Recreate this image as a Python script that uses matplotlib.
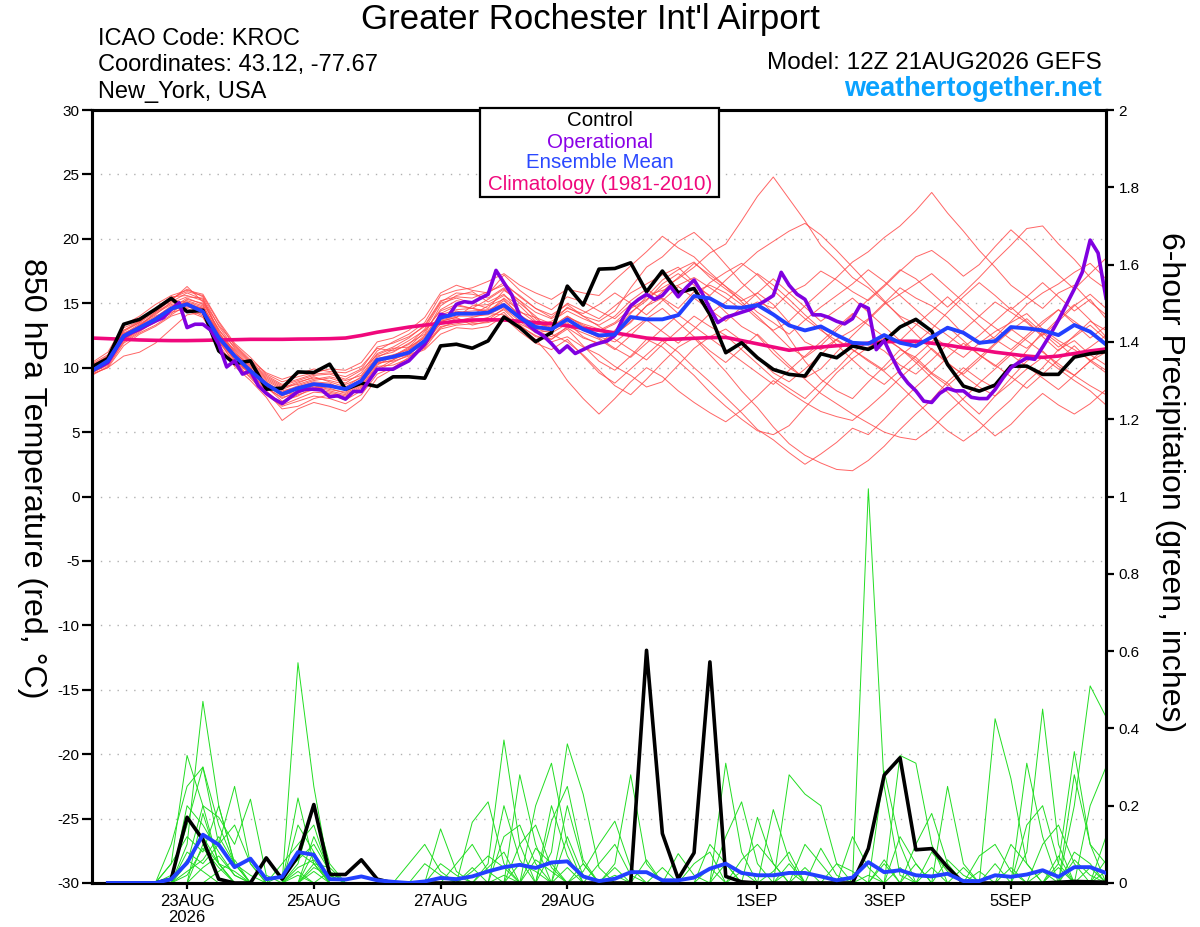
import numpy as np
import matplotlib
matplotlib.use("Agg")
import matplotlib.pyplot as plt
from matplotlib.patches import Rectangle

plt.rcParams['font.family'] = ['Liberation Sans', 'DejaVu Sans']

# ---------------- data ----------------
# 6-hourly steps from 12Z 21AUG2026 (hours since start)
hours6 = np.arange(0, 385, 6)
hours3 = np.arange(0, 385, 3)

tick_hours = [36, 84, 132, 180, 252, 300, 348]
tick_labels = ["23AUG\n2026", "25AUG", "27AUG", "29AUG", "1SEP", "3SEP", "5SEP"]

control_temp = [10.06, 10.71, 13.37, 13.75, 14.53, 15.38, 14.35, 14.45, 11.30, 10.32,
                10.53, 8.33, 8.41, 9.67, 9.62, 10.27, 8.33, 8.80, 8.54, 9.29,
                9.29, 9.18, 11.69, 11.82, 11.51, 12.08, 13.93, 13.11, 12.02, 12.72,
                16.33, 14.86, 17.65, 17.70, 18.14, 15.89, 17.50, 15.82, 16.15, 14.13,
                11.16, 11.93, 10.77, 9.86, 9.48, 9.35, 11.08, 10.77, 11.68, 11.42,
                12.06, 13.15, 13.75, 12.84, 10.25, 8.57, 8.18, 8.65, 10.12, 10.12,
                9.48, 9.48, 10.82, 11.08, 11.24]

mean_temp = [9.75, 10.53, 12.46, 13.11, 13.75, 14.58, 14.92, 14.35, 12.33, 10.91,
             9.75, 8.72, 7.95, 8.41, 8.72, 8.59, 8.33, 8.98, 10.6, 10.84,
             11.17, 12.08, 13.88, 14.19, 14.19, 14.27, 14.86, 13.88, 13.16, 12.98,
             13.75, 12.98, 12.5, 12.58, 13.93, 13.75, 13.75, 14.08, 15.56, 15.38,
             14.70, 14.65, 14.86, 14.13, 13.28, 12.89, 13.20, 12.53, 11.93, 11.86,
             12.53, 11.93, 11.68, 12.37, 13.10, 12.71, 11.93, 12.06, 13.15, 13.05,
             12.89, 12.53, 13.31, 12.79, 11.80]

clim_temp = [12.3, 12.25, 12.2, 12.15, 12.12, 12.1, 12.1, 12.12, 12.15, 12.17,
             12.2, 12.2, 12.2, 12.22, 12.23, 12.25, 12.3, 12.5, 12.75, 12.95,
             13.15, 13.3, 13.45, 13.6, 13.7, 13.72, 13.7, 13.6, 13.5, 13.4,
             13.25, 13.05, 12.9, 12.7, 12.5, 12.3, 12.2, 12.22, 12.28, 12.33,
             12.35, 12.1, 11.85, 11.6, 11.35, 11.5, 11.6, 11.7, 11.8, 11.9,
             12.0, 12.05, 12.05, 11.9, 11.75, 11.55, 11.4, 11.2, 11.05, 10.9,
             10.8, 10.9, 11.1, 11.3, 11.45]

# operational run, 3-hourly
oper_temp = [9.8, 10.06, 10.4, 11.43, 12.39, 12.72, 12.98, 13.31,
             13.62, 13.88, 14.53, 15.04, 13.11, 13.37, 13.37, 12.9,
             11.82, 10.06, 10.53, 9.5, 9.75, 8.59, 8.0, 7.56,
             7.22, 7.69, 8.15, 8.33, 8.33, 8.26, 7.74, 7.82,
             7.56, 8.15, 8.15, 9.03, 9.88, 9.88, 9.88, 10.22,
             10.53, 11.17, 11.82, 12.85, 14.14, 14.01, 14.92, 15.12,
             15.04, 15.38, 15.69, 17.55, 16.59, 15.64, 14.01, 13.37,
             12.85, 12.46, 11.87, 11.17, 11.69, 11.10, 11.4, 11.7,
             11.9, 12.06, 12.5, 13.8, 14.8, 15.3, 15.69, 15.3,
             15.6, 16.3, 15.5, 16.2, 16.8, 15.8, 14.6, 13.5,
             13.9, 14.1, 14.3, 14.5, 14.85, 15.2, 15.6, 17.4,
             16.4, 15.7, 15.3, 14.1, 14.1, 13.9, 13.6, 13.4,
             13.8, 14.9, 14.6, 11.4, 12.1, 10.8, 9.6, 8.8,
             8.2, 7.4, 7.3, 8.0, 8.4, 8.2, 8.2, 7.7,
             7.6, 7.6, 8.3, 9.2, 10.0, 10.4, 10.75, 10.65,
             11.6, 12.6, 13.7, 14.9, 16.1, 17.4, 19.9, 18.9,
             15.4]

member_temps = [
    [9.6,10.2,12.0,12.8,13.6,14.2,15.3,15.0,13.0,11.2,10.0,8.5,7.4,7.8,8.5,8.2,
     7.9,8.6,10.2,10.9,11.6,12.8,14.5,15.2,15.0,14.6,16.0,15.2,13.8,12.9,13.5,12.4,
     11.8,12.9,14.2,15.5,16.8,17.6,18.2,17.0,16.1,15.2,15.8,14.9,13.5,12.0,11.4,12.2,
     12.9,13.8,15.0,16.2,15.4,14.8,13.9,12.6,11.8,12.4,13.6,14.9,15.8,16.5,17.4,18.1,16.9],
    [10.1,10.9,12.6,13.4,14.1,15.1,15.8,15.3,12.6,11.4,10.1,9.0,8.3,8.8,9.3,8.9,
     8.5,9.3,10.9,11.2,11.9,12.6,14.8,15.6,15.9,15.1,15.7,14.3,13.9,13.4,14.7,14.0,
     13.6,14.4,16.2,17.8,18.6,19.8,20.5,19.4,18.0,16.6,15.5,14.2,12.3,10.5,9.1,8.2,
     7.6,8.9,10.1,11.4,10.8,9.6,8.8,7.5,6.4,7.8,9.2,10.5,11.3,10.1,9.4,8.6,7.9],
    [9.7,10.4,12.3,13.0,13.9,14.8,15.1,14.2,12.0,10.4,9.6,8.2,7.1,7.6,8.1,8.0,
     7.7,8.4,9.8,10.4,11.0,12.0,13.6,13.9,14.8,14.9,15.6,14.8,13.6,13.1,14.0,13.2,
     12.9,13.5,14.6,15.3,16.2,16.9,17.8,18.9,19.6,21.4,23.3,24.8,23.1,21.4,19.5,18.3,
     17.0,16.2,15.1,14.0,13.4,12.5,11.6,10.8,11.9,12.8,13.5,14.2,13.0,12.1,11.4,10.6,9.8],
    [9.9,10.6,12.4,13.3,14.0,14.5,14.7,14.6,12.5,10.8,9.4,8.1,6.8,7.0,7.6,7.9,
     7.5,8.2,9.9,10.6,11.4,12.4,14.1,14.5,14.6,15.3,16.1,15.0,14.0,12.6,12.0,11.0,
     9.8,8.6,7.9,9.1,10.4,11.6,12.3,11.0,9.7,8.2,6.9,5.4,4.1,3.2,2.6,2.1,
     2.0,2.8,3.9,5.2,6.4,7.5,8.9,10.0,9.1,8.4,9.9,11.3,12.8,11.9,10.8,11.6,12.5],
    [10.3,11.0,13.1,13.6,14.4,15.2,16.3,15.1,12.9,11.6,10.4,9.3,8.6,9.0,9.4,9.5,
     9.1,9.8,11.0,11.5,11.6,12.3,13.8,14.4,14.1,14.8,15.3,14.0,12.9,12.4,13.1,12.3,
     11.9,12.6,13.5,14.8,15.4,14.6,15.9,16.4,15.8,14.9,13.8,12.9,13.6,14.8,15.9,17.0,
     18.2,19.0,20.1,21.0,22.2,23.6,22.0,20.6,19.1,17.8,16.4,15.5,14.6,15.8,16.4,15.1,14.1],
    [9.5,10.0,11.7,12.6,13.2,14.0,14.4,13.9,11.8,10.1,9.0,7.7,5.9,6.8,7.3,7.0,
     6.6,7.5,9.2,9.9,10.5,11.7,13.2,13.4,13.6,13.9,14.5,13.3,12.4,12.2,13.0,11.7,
     10.5,9.8,10.9,12.2,11.6,10.5,9.4,8.1,7.0,6.0,5.1,4.8,5.5,6.9,8.2,9.6,
     10.7,11.6,12.3,11.5,10.4,9.2,8.1,6.9,5.8,4.7,5.6,6.9,8.0,7.1,6.4,7.2,8.3],
    [10.0,10.7,12.9,13.5,14.6,15.5,15.6,15.2,13.3,11.8,10.6,9.6,9.1,9.5,9.9,9.7,
     9.6,10.1,11.5,11.3,11.8,13.0,15.0,15.4,15.0,15.7,17.2,16.0,15.1,14.5,15.5,15.1,
     14.4,13.8,14.9,15.6,16.0,16.4,17.0,16.2,15.4,14.5,15.1,14.6,15.8,16.4,17.5,16.8,
     15.9,15.2,16.3,17.5,18.6,19.1,18.2,17.1,18.0,19.4,20.7,19.6,18.4,17.2,16.1,17.3,18.5],
    [9.4,10.1,11.9,12.7,13.3,14.1,14.9,14.6,12.2,10.6,9.5,8.4,7.7,8.0,8.6,8.4,
     8.0,8.7,10.5,10.8,11.1,11.9,13.4,13.8,13.5,13.7,14.6,13.6,12.7,12.9,13.9,13.4,
     13.0,12.2,11.4,10.6,11.8,12.9,14.0,13.2,12.5,11.4,10.3,9.2,8.4,7.6,8.8,9.9,
     11.2,12.0,11.3,10.2,9.5,10.6,11.8,12.9,14.0,15.1,14.3,13.5,12.4,11.3,12.5,13.6,12.9],
    [10.2,10.8,12.7,13.2,14.3,15.0,15.5,15.4,12.8,11.0,9.9,8.9,8.1,8.6,9.0,9.2,
     8.8,9.6,11.3,12.0,12.6,13.5,15.6,16.0,16.2,16.7,17.3,16.4,15.8,15.3,16.1,15.8,
     15.6,16.8,17.9,19.0,20.2,19.3,18.6,17.4,16.3,15.1,14.0,12.8,11.6,10.8,11.7,12.9,
     14.1,15.3,16.4,17.6,16.9,15.8,14.7,15.8,17.0,18.3,19.5,20.8,21.0,19.6,18.4,17.0,16.1],
    [9.8,10.5,12.2,13.0,13.7,14.3,14.6,14.0,12.1,10.9,9.7,8.6,7.9,8.1,8.4,8.6,
     8.4,9.0,10.6,10.7,11.0,11.5,13.1,13.6,13.9,14.2,14.1,13.2,12.5,12.0,12.4,11.6,
     11.0,10.1,9.4,8.5,8.9,10.2,11.5,12.4,13.0,12.1,10.8,9.6,8.9,9.9,11.0,12.2,
     11.4,10.5,9.7,8.6,7.4,6.2,5.1,4.3,5.2,6.4,7.5,8.9,10.0,11.4,12.1,11.0,10.2],
    [10.4,11.2,13.3,14.0,14.9,15.6,16.0,15.7,13.6,11.9,10.8,9.5,8.9,9.3,9.6,9.9,
     9.8,10.4,12.0,12.3,12.9,13.9,15.8,16.4,16.0,15.8,16.6,15.5,14.6,13.9,15.0,14.4,
     13.8,14.8,15.8,16.5,17.2,17.8,16.6,15.5,14.3,13.2,12.5,11.1,10.0,9.2,9.9,11.2,
     12.5,13.7,14.9,15.7,16.5,17.3,16.2,15.1,14.0,13.1,12.2,11.5,12.6,13.8,14.9,13.7,12.4],
    [9.6,10.3,12.1,12.9,13.5,14.4,15.0,14.5,12.4,10.5,9.2,7.9,7.0,7.4,7.8,7.6,
     7.2,7.9,9.5,10.0,10.8,11.8,13.0,13.3,13.4,13.5,13.9,12.8,11.9,11.4,12.2,10.9,
     9.6,8.8,9.9,11.0,12.1,11.2,10.0,8.9,7.7,6.5,5.2,4.4,3.4,2.5,3.3,4.2,
     5.3,4.8,6.0,7.3,8.5,9.6,10.8,11.9,11.0,10.1,11.2,12.3,13.4,14.5,13.6,12.7,11.8],
    [10.0,10.6,12.5,13.3,14.2,14.9,15.2,14.8,12.7,11.1,10.2,9.1,8.4,8.9,9.2,9.0,
     8.7,9.2,10.8,11.4,12.1,12.9,14.4,14.9,14.6,14.4,15.2,14.1,13.3,13.6,14.4,13.8,
     13.3,14.0,15.2,16.1,15.3,14.2,15.4,16.6,17.4,18.1,17.2,16.0,14.9,13.8,12.9,12.1,
     11.4,10.6,9.8,10.9,11.9,13.0,14.3,15.5,16.6,15.6,14.5,15.5,16.6,15.5,14.4,15.3,13.8],
    [9.7,10.4,12.3,13.1,13.8,14.6,15.4,14.9,12.5,11.3,9.9,8.8,8.2,8.5,8.9,8.8,
     8.2,8.9,10.4,10.5,10.9,11.4,12.6,13.1,13.0,13.2,14.0,13.4,12.8,12.2,13.2,12.7,
     12.2,11.4,12.5,13.7,12.8,11.9,13.0,14.2,15.1,16.2,17.3,16.4,15.3,14.1,13.0,11.8,
     10.6,9.5,8.7,9.8,10.9,12.0,13.2,12.1,11.0,10.2,9.3,8.4,9.5,10.6,11.7,10.5,9.6],
    [10.1,10.8,12.8,13.5,14.3,15.3,16.1,15.5,13.2,11.5,10.3,9.2,8.5,8.7,9.1,9.3,
     9.0,9.4,11.1,11.6,12.3,13.3,15.2,15.5,15.4,15.9,16.4,15.6,14.6,14.1,14.9,14.0,
     13.2,12.5,13.6,14.8,15.9,17.0,18.1,17.2,16.3,15.4,14.3,13.5,12.6,13.7,14.7,15.6,
     16.5,17.6,16.7,15.6,14.5,13.4,12.5,11.6,12.5,13.6,14.7,13.6,12.5,13.6,14.8,15.7,14.6],
    [9.5,10.0,10.9,11.2,11.9,13.0,14.1,14.3,12.2,10.2,9.3,8.0,7.3,7.9,8.3,8.1,
     7.8,8.5,10.1,10.2,10.7,11.6,13.6,13.9,13.3,13.6,14.3,13.0,12.2,10.8,9.0,7.6,
     6.4,7.6,8.9,10.0,9.3,8.2,7.3,6.5,5.8,6.7,7.8,9.0,8.1,7.3,6.6,6.2,
     5.9,6.9,8.0,9.2,10.3,11.5,10.4,9.4,8.5,7.8,8.8,9.9,10.8,9.9,9.0,8.2,7.1],
    [9.9,10.6,12.6,13.2,13.9,14.7,15.0,14.6,12.4,11.0,9.8,8.8,8.0,8.5,8.8,8.7,
     8.4,9.1,10.7,11.0,11.4,12.2,13.9,14.3,14.4,14.5,15.0,14.0,13.4,13.2,14.0,13.3,
     12.8,13.4,14.3,15.2,16.5,17.3,16.4,15.6,16.8,17.9,19.0,19.8,20.6,21.2,20.3,19.1,
     17.8,16.5,15.2,13.9,12.6,11.4,10.3,9.5,10.6,11.8,12.9,13.8,12.7,11.6,12.4,13.3,12.2],
    [9.8,10.4,12.4,13.0,13.6,14.5,14.8,14.1,12.0,10.7,9.6,8.5,7.6,8.2,8.6,8.3,
     8.1,8.8,10.3,10.6,11.2,12.0,13.7,14.0,14.0,14.1,14.7,13.8,13.0,12.7,13.4,12.9,
     12.4,12.0,12.9,13.8,14.6,13.5,12.4,11.3,10.4,11.5,12.6,11.4,10.2,9.1,8.0,7.2,
     6.4,5.7,5.0,4.6,4.4,5.3,6.5,7.6,8.8,9.9,11.0,10.1,9.2,8.3,9.4,10.5,11.2],
    [10.2,10.9,12.9,13.6,14.5,15.4,15.9,15.6,13.5,11.7,10.5,9.4,8.7,9.1,9.5,9.6,
     9.3,9.9,11.6,11.9,12.4,13.2,15.1,15.8,15.7,15.4,16.2,15.2,14.3,13.8,14.6,14.2,
     14.9,15.8,15.0,14.1,15.2,16.3,15.4,14.5,13.6,14.7,15.8,16.9,15.8,14.7,13.6,14.5,
     15.4,14.3,13.2,12.1,13.3,14.4,15.5,14.4,13.3,12.2,11.4,12.5,13.6,14.5,13.4,12.3,13.2],
    [9.6,10.3,12.2,12.9,13.7,14.5,15.1,14.7,12.6,10.9,9.7,8.6,7.8,8.3,8.7,8.5,
     8.3,8.8,10.4,10.9,11.5,12.5,14.2,14.8,14.6,14.3,15.4,14.4,13.5,13.0,13.8,13.0,
     12.3,11.5,10.8,11.9,13.0,14.1,13.2,12.3,11.4,10.5,9.6,8.7,9.8,10.9,12.0,13.1,
     14.2,13.3,12.4,11.5,10.6,9.5,8.6,9.7,10.8,11.9,13.0,12.1,11.2,10.3,9.4,10.5,11.6],
]

control_precip = [0, 0, 0, 0, 0, 0.01, 0.17, 0.112, 0.01, 0,
                  0, 0.065, 0.01, 0.069, 0.203, 0.022, 0.022, 0.06, 0.01, 0,
                  0, 0, 0, 0, 0, 0, 0, 0, 0, 0,
                  0, 0, 0, 0, 0, 0.602, 0.128, 0.011, 0.078, 0.572,
                  0.017, 0.003, 0, 0, 0, 0, 0, 0, 0, 0.089,
                  0.279, 0.324, 0.086, 0.089, 0.041, 0, 0, 0, 0, 0,
                  0, 0.002, 0.004, 0.003, 0.002]

mean_precip = [0, 0, 0, 0, 0, 0.01, 0.052, 0.125, 0.099, 0.041,
               0.063, 0.01, 0.016, 0.08, 0.073, 0.01, 0.009, 0.017, 0.007, 0.003,
               0, 0.004, 0.013, 0.01, 0.017, 0.03, 0.041, 0.047, 0.039, 0.053,
               0.056, 0.017, 0.005, 0.011, 0.028, 0.028, 0.007, 0.007, 0.014, 0.037,
               0.05, 0.026, 0.02, 0.02, 0.026, 0.026, 0.017, 0.007, 0.014, 0.054,
               0.028, 0.033, 0.02, 0.017, 0.024, 0.005, 0.005, 0.02, 0.016, 0.022,
               0.033, 0.016, 0.041, 0.041, 0.026]

# ensemble member precipitation: {6-h step index: inches}, other steps are 0
member_precip = [
    {5: 0.05, 6: 0.33, 7: 0.2, 8: 0.05, 13: 0.57, 14: 0.25, 15: 0.02, 25: 0.05, 26: 0.37, 27: 0.1,
     33: 0.05, 34: 0.28, 35: 0.05, 49: 1.02, 50: 0.25, 51: 0.02, 59: 0.08, 60: 0.45, 61: 0.1},
    {6: 0.1, 7: 0.47, 8: 0.2, 9: 0.05, 13: 0.05, 14: 0.2, 15: 0.05, 29: 0.08, 30: 0.36, 31: 0.23,
     32: 0.04, 40: 0.31, 41: 0.08, 51: 0.33, 52: 0.31, 53: 0.1, 62: 0.2, 63: 0.51, 64: 0.43},
    {5: 0.1, 6: 0.25, 7: 0.3, 8: 0.1, 9: 0.25, 10: 0.05, 13: 0.22, 14: 0.05, 22: 0.14, 23: 0.03,
     27: 0.28, 28: 0.1, 42: 0.17, 43: 0.05, 57: 0.425, 58: 0.27, 59: 0.05},
    {6: 0.05, 7: 0.2, 8: 0.17, 9: 0.1, 10: 0.217, 11: 0.02, 14: 0.12, 15: 0.03, 24: 0.157, 25: 0.21,
     26: 0.05, 31: 0.03, 32: 0.1, 33: 0.16, 34: 0.04, 44: 0.28, 45: 0.23, 46: 0.2, 47: 0.05,
     54: 0.25, 55: 0.05, 61: 0.05, 62: 0.34, 63: 0.1},
    {5: 0.02, 6: 0.15, 7: 0.3, 8: 0.15, 9: 0.05, 12: 0.05, 13: 0.1, 14: 0.15, 15: 0.02, 20: 0.05,
     21: 0.1, 22: 0.03, 28: 0.2, 29: 0.31, 30: 0.1, 37: 0.076, 38: 0.02, 43: 0.19, 44: 0.06,
     50: 0.29, 51: 0.1, 59: 0.31, 60: 0.12},
    {6: 0.2, 7: 0.15, 8: 0.08, 9: 0.02, 13: 0.08, 14: 0.05, 15: 0.04, 26: 0.12, 27: 0.15, 28: 0.05,
     30: 0.2, 31: 0.05, 40: 0.12, 41: 0.21, 42: 0.05, 48: 0.12, 49: 0.04, 52: 0.1, 53: 0.18,
     54: 0.05, 62: 0.28, 63: 0.1, 64: 0.05},
    {7: 0.1, 8: 0.05, 9: 0.03, 14: 0.08, 23: 0.05, 24: 0.1, 25: 0.03, 29: 0.16, 30: 0.25, 31: 0.06,
     39: 0.1, 40: 0.05, 45: 0.1, 46: 0.05, 56: 0.07, 57: 0.1, 58: 0.03, 63: 0.2, 64: 0.3},
    {5: 0.05, 6: 0.12, 7: 0.08, 8: 0.2, 9: 0.05, 13: 0.15, 14: 0.08, 26: 0.2, 27: 0.06, 32: 0.05,
     33: 0.1, 34: 0.02, 46: 0.09, 47: 0.02, 51: 0.12, 52: 0.05, 59: 0.15, 60: 0.2, 61: 0.05},
    {6: 0.05, 7: 0.12, 8: 0.05, 12: 0.02, 13: 0.06, 14: 0.1, 15: 0.03, 21: 0.05, 22: 0.02,
     28: 0.09, 29: 0.05, 35: 0.06, 41: 0.06, 42: 0.1, 43: 0.05, 53: 0.08, 54: 0.03, 60: 0.1,
     61: 0.15, 62: 0.05},
    {6: 0.08, 7: 0.05, 8: 0.1, 9: 0.15, 10: 0.05, 14: 0.05, 24: 0.03, 25: 0.07, 26: 0.04,
     30: 0.12, 31: 0.02, 38: 0.05, 39: 0.08, 44: 0.05, 50: 0.06, 55: 0.04, 58: 0.1, 59: 0.05,
     64: 0.12},
    {7: 0.18, 8: 0.05, 13: 0.04, 14: 0.06, 22: 0.05, 23: 0.02, 27: 0.1, 28: 0.15, 29: 0.04,
     33: 0.04, 40: 0.05, 47: 0.05, 48: 0.03, 52: 0.05, 57: 0.05, 62: 0.08, 63: 0.05},
    {6: 0.03, 7: 0.06, 8: 0.12, 9: 0.05, 10: 0.02, 15: 0.03, 25: 0.04, 26: 0.08, 29: 0.2,
     30: 0.07, 36: 0.04, 43: 0.03, 44: 0.08, 49: 0.02, 54: 0.06, 55: 0.02, 61: 0.04, 64: 0.06},
    {6: 0.02, 7: 0.09, 8: 0.04, 14: 0.03, 27: 0.05, 28: 0.03, 33: 0.02, 45: 0.04, 56: 0.03,
     63: 0.04},
    {7: 0.04, 8: 0.07, 9: 0.02, 13: 0.03, 26: 0.02, 30: 0.04, 41: 0.03, 51: 0.04, 60: 0.03},
    {6: 0.06, 7: 0.03, 14: 0.04, 15: 0.02, 28: 0.06, 29: 0.03, 39: 0.04, 50: 0.05, 58: 0.04,
     62: 0.06, 63: 0.02},
    {8: 0.03, 9: 0.06, 13: 0.02, 24: 0.04, 31: 0.05, 44: 0.03, 53: 0.04, 61: 0.07, 64: 0.03},
]

# ---------------- figure ----------------
W, H = 1200, 927
fig = plt.figure(figsize=(W / 100, H / 100), dpi=100)
L, R, T, B = 92, 1106, 110, 883
ax = fig.add_axes([L / W, 1 - B / H, (R - L) / W, (B - T) / H])
ax2 = ax.twinx()

ax.set_xlim(0, 384)
ax.set_ylim(-30, 30)
ax2.set_ylim(0, 2)

for yv in range(-25, 30, 5):
    ax.axhline(yv, color='#b0b0b0', lw=1.0, ls=(0, (1, 5)), zorder=0)

for m in member_temps:
    ax.plot(hours6[:len(m)], m, color='#ff4a4a', lw=0.7, alpha=0.85, zorder=1)
ax.plot(hours6, clim_temp, color='#f0087c', lw=2.6, zorder=3)
ax.plot(hours6, control_temp, color='black', lw=2.6, zorder=4)
ax.plot(hours3, oper_temp, color='#8000e0', lw=2.6, zorder=5)
ax.plot(hours6, mean_temp, color='#2240ff', lw=2.8, zorder=6)

for d in member_precip:
    vals = [d.get(i, 0.0) for i in range(len(hours6))]
    ax2.plot(hours6[1:], vals[1:], color='#22dd22', lw=0.7, zorder=1)
ax2.plot(hours6[1:], control_precip[1:], color='black', lw=2.6, zorder=4)
ax2.plot(hours6[1:], mean_precip[1:], color='#2240ff', lw=2.8, zorder=5)

# axes styling
for a in (ax, ax2):
    for s in a.spines.values():
        s.set_linewidth(2.2)
ax.set_yticks(range(-30, 31, 5))
ax.set_yticklabels([str(v) for v in range(-30, 31, 5)])
ax.tick_params(axis='y', direction='out', length=7, width=1.6, labelsize=11, pad=2)
ax.set_xticks(tick_hours)
ax.set_xticklabels(tick_labels, linespacing=1.05)
ax.tick_params(axis='x', direction='out', length=4, width=1.6, labelsize=12, pad=4)
ax2.set_yticks(np.arange(0, 2.01, 0.2))
ax2.set_yticklabels(['0', '0.2', '0.4', '0.6', '0.8', '1', '1.2', '1.4', '1.6', '1.8', '2'])
ax2.tick_params(axis='y', direction='out', length=6, width=1.6, labelsize=11, pad=3)

# texts
def fx(x):
    return x / W

def fy(y):
    return 1 - y / H

fig.text(fx(590), fy(19), "Greater Rochester Int'l Airport", ha='center', va='center', fontsize=25)
fig.text(fx(98), fy(39), "ICAO Code: KROC", ha='left', va='center', fontsize=17)
fig.text(fx(98), fy(65), "Coordinates: 43.12, -77.67", ha='left', va='center', fontsize=17)
fig.text(fx(98), fy(92), "New_York, USA", ha='left', va='center', fontsize=17)
fig.text(fx(1102), fy(63), "Model: 12Z 21AUG2026 GEFS", ha='right', va='center', fontsize=17.5)
fig.text(fx(1102), fy(89), "weathertogether.net", ha='right', va='center', fontsize=19.5,
         fontweight='bold', color='#0aa2ff')

fig.text(fx(32), fy(478), "850 hPa Temperature (red, °C)", rotation=270, ha='center', va='center',
         fontsize=23.2)
fig.text(fx(1170), fy(482), "6-hour Precipitation (green, inches)", rotation=270, ha='center',
         va='center', fontsize=23)

# legend box
fig.patches.append(Rectangle((fx(480), fy(197)), (719 - 480) / W, (197 - 108) / H,
                             transform=fig.transFigure, facecolor='white', edgecolor='black',
                             lw=1.6, zorder=10))
leg = [("Control", 'black', 121), ("Operational", '#8a00e6', 142),
       ("Ensemble Mean", '#2a48ff', 163), ("Climatology (1981-2010)", '#f0087c', 185)]
for txt, col, yy in leg:
    fig.text(fx(600), fy(yy), txt, ha='center', va='center', fontsize=14.8, color=col, zorder=11)

fig.savefig("out.png", dpi=100)
